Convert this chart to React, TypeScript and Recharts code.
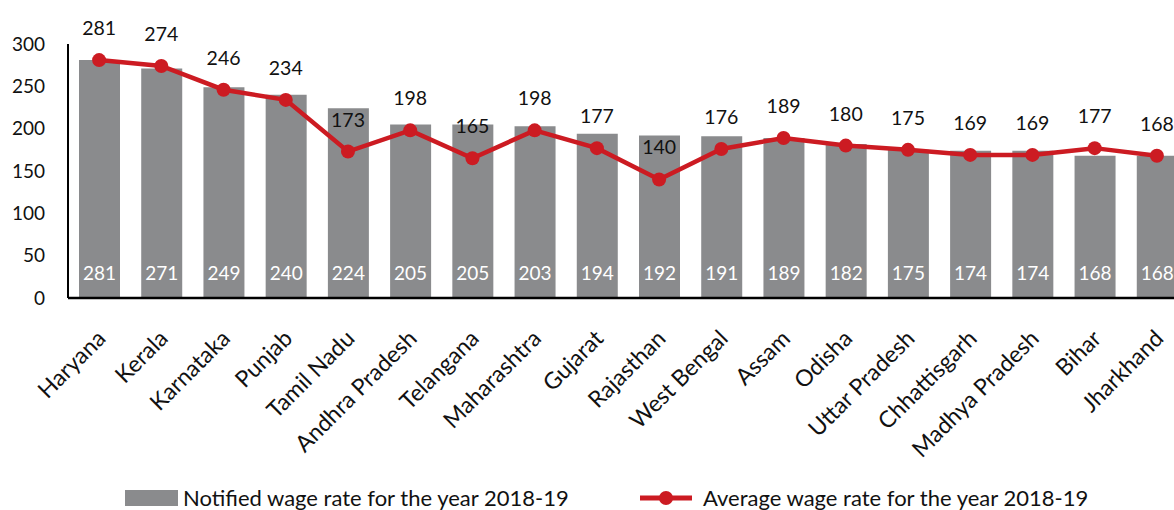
import { Bar, ComposedChart, LabelList, Legend, Line, XAxis, YAxis } from "recharts"

const states = [
  "Haryana",
  "Kerala",
  "Karnataka",
  "Punjab",
  "Tamil Nadu",
  "Andhra Pradesh",
  "Telangana",
  "Maharashtra",
  "Gujarat",
  "Rajasthan",
  "West Bengal",
  "Assam",
  "Odisha",
  "Uttar Pradesh",
  "Chhattisgarh",
  "Madhya Pradesh",
  "Bihar",
  "Jharkhand",
]
const notified = [281, 271, 249, 240, 224, 205, 205, 203, 194, 192, 191, 189, 182, 175, 174, 174, 168, 168]
const average = [281, 274, 246, 234, 173, 198, 165, 198, 177, 140, 176, 189, 180, 175, 169, 169, 177, 168]
const yTicks = [0, 50, 100, 150, 200, 250, 300]

const data = states.map((state, i) => ({ state, notified: notified[i], average: average[i] }))

const GREY = "#8a8b8d"
const RED = "#cc1b22"
const FONT = "Lato, 'Open Sans', sans-serif"

function StateTick({ x, y, payload }: any) {
  const tx = x + 8
  const ty = y + 34
  return (
    <text
      x={tx}
      y={ty}
      transform={`rotate(-45, ${tx}, ${ty})`}
      textAnchor="end"
      fontSize={23}
      fontFamily={FONT}
      fill="#111"
    >
      {payload.value}
    </text>
  )
}

function BarValue({ x, y, width, height, value }: any) {
  return (
    <text
      x={x + width / 2}
      y={y + height - 18}
      textAnchor="middle"
      fontSize={19}
      fontFamily={FONT}
      fill="#fff"
    >
      {value}
    </text>
  )
}

function LineValue({ x, y, value }: any) {
  return (
    <text x={x} y={y - 25} textAnchor="middle" fontSize={19.5} fontFamily={FONT} fill="#111">
      {value}
    </text>
  )
}

function ChartLegend() {
  const text = { fontSize: 22, fontFamily: FONT, color: "#111", lineHeight: "24px", whiteSpace: "nowrap" as const }
  return (
    <div style={{ position: "relative", height: 30, width: 1174 }}>
      <div style={{ position: "absolute", left: 125, top: 6, display: "flex", alignItems: "center" }}>
        <span style={{ display: "inline-block", width: 53, height: 16, background: GREY, marginRight: 5 }} />
        <span style={text}>Notified wage rate for the year 2018-19</span>
      </div>
      <div style={{ position: "absolute", left: 640, top: 6, display: "flex", alignItems: "center" }}>
        <svg width={52} height={16} style={{ marginRight: 11 }}>
          <line x1={0} y1={8} x2={52} y2={8} stroke={RED} strokeWidth={5} strokeLinecap="round" />
          <circle cx={26} cy={8} r={7} fill={RED} />
        </svg>
        <span style={text}>Average wage rate for the year 2018-19</span>
      </div>
    </div>
  )
}

export default function App() {
  return (
    <div style={{ position: "fixed", left: 0, top: 0, width: 1174, height: 510, overflow: "hidden", background: "#fff" }}>
      <ComposedChart
        width={1200}
        height={510}
        data={data}
        margin={{ top: 44, right: 12, bottom: 0, left: 0 }}
        barSize={41}
      >
        <XAxis
          dataKey="state"
          interval={0}
          tickLine={false}
          axisLine={{ stroke: "#000", strokeWidth: 2.5 }}
          height={182}
          tick={<StateTick />}
        />
        <YAxis
          domain={[0, 300]}
          ticks={yTicks}
          width={68}
          tickLine={false}
          tickSize={0}
          tickMargin={23}
          axisLine={{ stroke: "#000", strokeWidth: 2 }}
          tick={{ fontSize: 19, fontFamily: FONT, fill: "#111" }}
        />
        <Legend verticalAlign="bottom" height={30} content={<ChartLegend />} wrapperStyle={{ left: 0, bottom: 0, width: 1174 }} />
        <Bar dataKey="notified" fill={GREY} isAnimationActive={false}>
          <LabelList dataKey="notified" content={<BarValue />} />
        </Bar>
        <Line
          dataKey="average"
          stroke={RED}
          strokeWidth={4.5}
          dot={{ r: 7, fill: RED, stroke: "none" }}
          activeDot={false}
          isAnimationActive={false}
        >
          <LabelList dataKey="average" content={<LineValue />} />
        </Line>
      </ComposedChart>
    </div>
  )
}
